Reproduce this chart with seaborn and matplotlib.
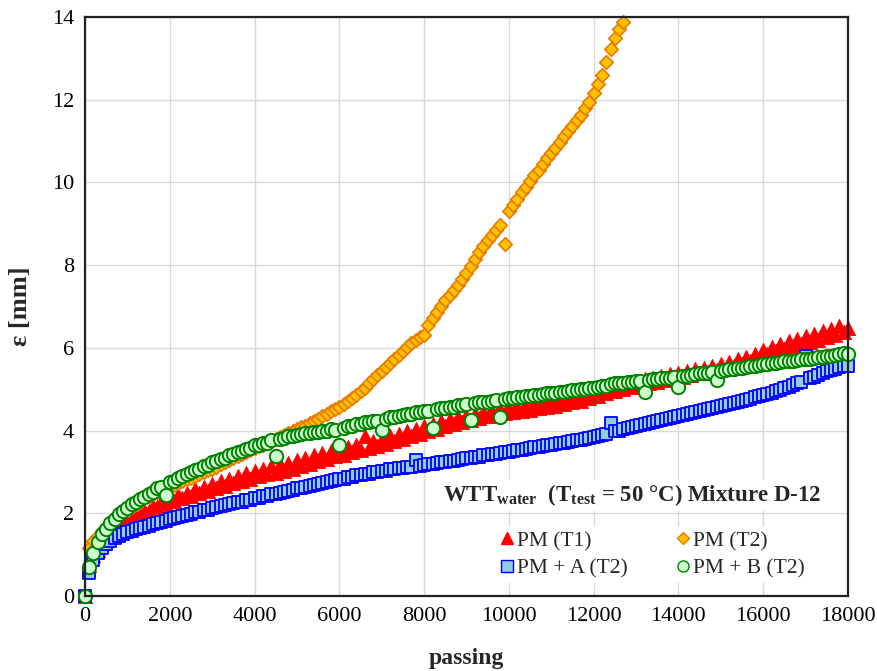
import matplotlib
matplotlib.use("Agg")
import matplotlib.pyplot as plt
import seaborn as sns
from matplotlib.lines import Line2D

# ---------------- data ----------------
passing = list(range(0, 18001, 100))

pm_t1 = [0.00, 0.75, 1.00, 1.12, 1.30, 1.36, 1.50, 1.55, 1.68, 1.70,
         1.82, 1.85, 1.95, 1.96, 2.08, 2.05, 2.18, 2.14, 2.28, 2.22,
         2.36, 2.30, 2.44, 2.36, 2.50, 2.42, 2.58, 2.48, 2.64, 2.55,
         2.70, 2.60, 2.78, 2.66, 2.84, 2.72, 2.90, 2.78, 2.98, 2.84,
         3.02, 2.90, 3.08, 2.95, 3.14, 2.98, 3.18, 3.02, 3.22, 3.08,
         3.28, 3.14, 3.34, 3.20, 3.40, 3.26, 3.46, 3.32, 3.50, 3.38,
         3.56, 3.42, 3.60, 3.48, 3.66, 3.52, 3.88, 3.58, 3.74, 3.62,
         3.80, 3.68, 3.86, 3.74, 3.92, 3.80, 3.98, 3.86, 4.04, 3.92,
         4.10, 3.98, 4.16, 4.04, 4.22, 4.10, 4.28, 4.16, 4.32, 4.20,
         4.36, 4.26, 4.40, 4.30, 4.44, 4.34, 4.48, 4.38, 4.52, 4.42,
         4.54, 4.44, 4.58, 4.48, 4.60, 4.50, 4.64, 4.54, 4.66, 4.56,
         4.70, 4.60, 4.74, 4.64, 4.78, 4.68, 4.84, 4.72, 4.88, 4.78,
         4.94, 4.84, 5.00, 4.90, 5.06, 4.96, 5.10, 5.00, 5.14, 5.06,
         5.18, 5.10, 5.24, 5.14, 5.28, 5.18, 5.32, 5.22, 5.36, 5.26,
         5.40, 5.30, 5.44, 5.34, 5.48, 5.38, 5.52, 5.42, 5.56, 5.46,
         5.60, 5.50, 5.66, 5.56, 5.72, 5.62, 5.78, 5.68, 5.86, 5.76,
         5.94, 5.84, 6.02, 5.92, 6.10, 5.98, 6.16, 6.04, 6.22, 6.10,
         6.28, 6.14, 6.34, 6.20, 6.40, 6.26, 6.46, 6.32, 6.52, 6.38,
         6.48]

pm_t2 = [0.00, 1.15, 1.32, 1.46, 1.57, 1.67, 1.78, 1.86, 1.94, 2.02,
         2.08, 2.15, 2.22, 2.28, 2.36, 2.41, 2.46, 2.52, 2.56, 2.60,
         2.64, 2.68, 2.73, 2.77, 2.82, 2.86, 2.90, 2.95, 2.99, 3.04,
         3.08, 3.13, 3.18, 3.23, 3.28, 3.33, 3.38, 3.43, 3.48, 3.52,
         3.57, 3.62, 3.66, 3.71, 3.76, 3.80, 3.85, 3.89, 3.94, 3.98,
         4.03, 4.08, 4.12, 4.18, 4.23, 4.29, 4.35, 4.41, 4.47, 4.52,
         4.58, 4.64, 4.72, 4.78, 4.86, 4.96, 5.04, 5.14, 5.24, 5.35,
         5.44, 5.54, 5.64, 5.74, 5.83, 5.92, 6.02, 6.11, 6.20, 6.25,
         6.32, 6.55, 6.72, 6.86, 7.02, 7.16, 7.28, 7.40, 7.52, 7.66,
         7.80, 7.98, 8.16, 8.32, 8.46, 8.60, 8.72, 8.84, 8.98, 8.50,
         9.30, 9.46, 9.60, 9.76, 9.90, 10.04, 10.18, 10.30, 10.44, 10.58,
         10.70, 10.84, 10.98, 11.11, 11.24, 11.37, 11.50, 11.62, 11.80, 11.94,
         12.16, 12.38, 12.60, 12.90, 13.22, 13.50, 13.72, 13.88]

pm_a_t2 = [0.00, 0.55, 0.87, 1.03, 1.15, 1.25, 1.33, 1.40, 1.45, 1.50,
           1.54, 1.57, 1.62, 1.64, 1.68, 1.70, 1.74, 1.76, 1.80, 1.82,
           1.86, 1.88, 1.92, 1.93, 1.97, 1.99, 2.03, 2.04, 2.08, 2.09,
           2.13, 2.14, 2.18, 2.19, 2.23, 2.24, 2.28, 2.28, 2.32, 2.33,
           2.37, 2.38, 2.41, 2.42, 2.46, 2.47, 2.50, 2.51, 2.55, 2.56,
           2.60, 2.60, 2.64, 2.65, 2.69, 2.70, 2.74, 2.75, 2.79, 2.80,
           2.84, 2.84, 2.88, 2.88, 2.92, 2.92, 2.96, 2.96, 3.00, 3.00,
           3.03, 3.03, 3.06, 3.06, 3.09, 3.09, 3.12, 3.12, 3.30, 3.15,
           3.17, 3.18, 3.20, 3.21, 3.23, 3.24, 3.26, 3.27, 3.30, 3.31,
           3.33, 3.34, 3.36, 3.37, 3.40, 3.41, 3.43, 3.44, 3.46, 3.47,
           3.49, 3.51, 3.53, 3.54, 3.56, 3.58, 3.60, 3.61, 3.63, 3.64,
           3.66, 3.67, 3.69, 3.71, 3.73, 3.74, 3.76, 3.78, 3.80, 3.81,
           3.84, 3.87, 3.89, 3.92, 4.18, 3.98, 4.00, 4.03, 4.05, 4.08,
           4.10, 4.13, 4.15, 4.18, 4.20, 4.23, 4.25, 4.28, 4.30, 4.32,
           4.34, 4.37, 4.39, 4.42, 4.44, 4.47, 4.49, 4.51, 4.54, 4.56,
           4.59, 4.61, 4.64, 4.66, 4.69, 4.71, 4.74, 4.77, 4.80, 4.83,
           4.86, 4.89, 4.92, 4.95, 4.98, 5.02, 5.06, 5.10, 5.14, 5.18,
           5.80, 5.26, 5.30, 5.34, 5.39, 5.43, 5.47, 5.50, 5.53, 5.55,
           5.56]

pm_b_t2 = [0.00, 0.70, 1.03, 1.30, 1.50, 1.62, 1.76, 1.86, 1.98, 2.06,
           2.12, 2.22, 2.27, 2.35, 2.40, 2.47, 2.52, 2.60, 2.64, 2.44,
           2.76, 2.79, 2.86, 2.89, 2.96, 3.00, 3.05, 3.08, 3.14, 3.16,
           3.24, 3.26, 3.31, 3.34, 3.40, 3.43, 3.48, 3.50, 3.56, 3.58,
           3.64, 3.66, 3.70, 3.71, 3.76, 3.38, 3.80, 3.82, 3.86, 3.86,
           3.90, 3.91, 3.94, 3.94, 3.97, 3.97, 4.00, 4.00, 4.03, 4.02,
           3.65, 4.07, 4.10, 4.11, 4.15, 4.16, 4.20, 4.20, 4.24, 4.24,
           4.01, 4.28, 4.32, 4.33, 4.36, 4.37, 4.40, 4.40, 4.44, 4.44,
           4.48, 4.48, 4.05, 4.52, 4.54, 4.55, 4.58, 4.58, 4.61, 4.62,
           4.64, 4.26, 4.66, 4.68, 4.70, 4.70, 4.72, 4.73, 4.32, 4.76,
           4.78, 4.78, 4.80, 4.81, 4.83, 4.84, 4.86, 4.86, 4.88, 4.90,
           4.91, 4.92, 4.94, 4.94, 4.96, 4.97, 4.98, 5.00, 5.01, 5.02,
           5.04, 5.05, 5.07, 5.08, 5.12, 5.14, 5.15, 5.16, 5.18, 5.18,
           5.20, 5.21, 4.94, 5.23, 5.24, 5.25, 5.26, 5.27, 5.28, 5.29,
           5.06, 5.31, 5.33, 5.34, 5.36, 5.38, 5.39, 5.40, 5.42, 5.22,
           5.45, 5.46, 5.48, 5.50, 5.51, 5.52, 5.54, 5.55, 5.57, 5.58,
           5.60, 5.61, 5.63, 5.64, 5.66, 5.67, 5.68, 5.69, 5.71, 5.72,
           5.73, 5.74, 5.75, 5.77, 5.78, 5.80, 5.81, 5.83, 5.85, 5.87,
           5.84]

series_labels = ["PM (T1)", "PM (T2)", "PM + A (T2)", "PM + B (T2)"]
x_ticks = [0, 2000, 4000, 6000, 8000, 10000, 12000, 14000, 16000, 18000]
y_ticks = [0, 2, 4, 6, 8, 10, 12, 14]
annotation = "WTT$_{\\mathbf{water}}$  (T$_{\\mathbf{test}}$ = 50 °C) Mixture D-12"

# ---------------- styling ----------------
sns.set_theme(style="whitegrid")
plt.rcParams["font.family"] = ["Liberation Serif", "DejaVu Serif"]
plt.rcParams["mathtext.fontset"] = "custom"
plt.rcParams["mathtext.rm"] = "Liberation Serif"
plt.rcParams["mathtext.bf"] = "Liberation Serif:bold"
plt.rcParams["mathtext.it"] = "Liberation Serif:italic"

fig = plt.figure(figsize=(8.77, 6.71), dpi=100)
ax = fig.add_axes([0.0969, 0.1118, 0.8700, 0.8629])

styles = [
    dict(marker="^", s=105, color="#FF0000", edgecolor="#FF0000", linewidth=0.6),
    dict(marker="D", s=48, color="#FFC000", edgecolor="#E87A00", linewidth=1.2),
    dict(marker="s", s=66, color="#92CDDC", edgecolor="#0000FF", linewidth=1.3),
    dict(marker="o", s=92, color="#CCFFCC", edgecolor="#008000", linewidth=1.4),
]
series = [pm_t1, pm_t2, pm_a_t2, pm_b_t2]

for i, (vals, st) in enumerate(zip(series, styles)):
    sns.scatterplot(x=passing[:len(vals)], y=vals, ax=ax, legend=False,
                    clip_on=False, zorder=3 + i, **st)

ax.set_xlim(0, 18000)
ax.set_ylim(0, 14)
ax.set_xticks(x_ticks)
ax.set_yticks(y_ticks)
ax.grid(True, color="#D9D9D9", linewidth=1.0)
ax.set_axisbelow(True)
for sp in ax.spines.values():
    sp.set_visible(True)
    sp.set_color("#222222")
    sp.set_linewidth(1.6)
    sp.set_zorder(12)
ax.tick_params(axis="both", which="major", labelsize=16, length=5,
               width=1.0, color="#888888", direction="out", pad=3,
               labelcolor="black")
ax.set_xlabel("passing", fontsize=17, fontweight="bold")
ax.set_ylabel("ε [mm]", fontsize=19, fontweight="bold")
ax.xaxis.set_label_coords(0.5, -0.089)
ax.yaxis.set_label_coords(-0.070, 0.5)

ax.text(12900, 2.43, annotation, fontsize=16.5, fontweight="bold",
        ha="center", va="center", zorder=10,
        bbox=dict(facecolor="white", edgecolor="none", pad=2))

handles = []
for lab, st in zip(series_labels, styles):
    handles.append(Line2D([], [], linestyle="none", marker=st["marker"],
                          markersize=8 if st["marker"] != "D" else 6.5,
                          markerfacecolor=st["color"],
                          markeredgecolor=st["edgecolor"],
                          markeredgewidth=1.0, label=lab))
order = [0, 2, 1, 3]
leg = ax.legend([handles[k] for k in order], [series_labels[k] for k in order],
                ncol=2, loc="lower right", bbox_to_anchor=(0.963, 0.004),
                frameon=True, fontsize=15.5, handlelength=0.6,
                handletextpad=0.15, columnspacing=2.3, labelspacing=0.35,
                borderpad=0.2)
leg.get_frame().set_facecolor("white")
leg.get_frame().set_edgecolor("none")
leg.get_frame().set_alpha(1.0)
leg.set_zorder(10)

fig.savefig("out.png", dpi=100)
